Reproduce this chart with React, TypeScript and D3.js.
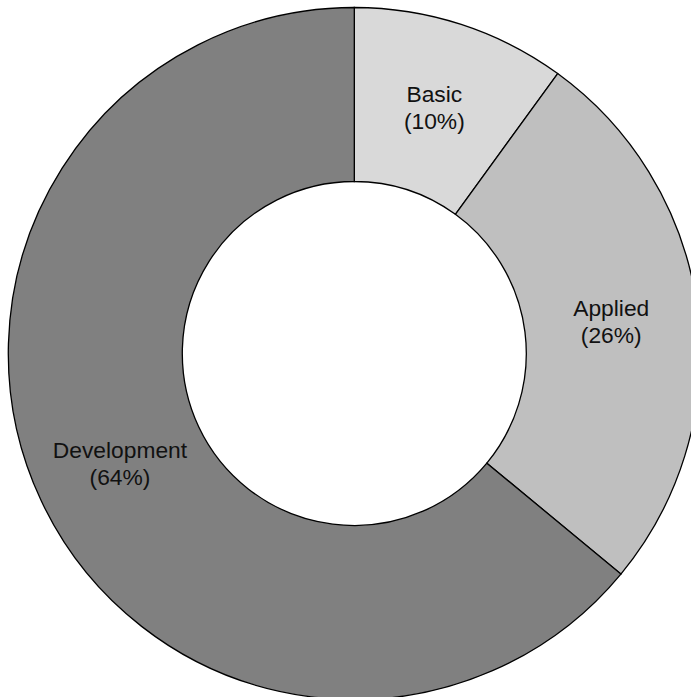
import React from "react";
import * as d3 from "d3";

const categories = ["Basic", "Applied", "Development"];
const shares = [10, 26, 64];
const fills = ["#d9d9d9", "#bfbfbf", "#808080"];

const WIDTH = 691;
const HEIGHT = 697;
const CX = 354.3;
const CY = 353.5;
const OUTER = 346;
const INNER = 172;

export default function App() {
  const pie = d3
    .pie<number>()
    .sort(null)
    .value((d) => d)
    .startAngle(0)
    .endAngle(2 * Math.PI);
  const arcs = pie(shares);
  const arc = d3
    .arc<d3.PieArcDatum<number>>()
    .innerRadius(INNER)
    .outerRadius(OUTER);

  return (
    <svg
      width={WIDTH}
      height={HEIGHT}
      style={{ position: "absolute", left: 0, top: 0, background: "#fff" }}
    >
      <g transform={`translate(${CX},${CY})`}>
        {arcs.map((a, i) => (
          <path
            key={categories[i]}
            d={arc(a) ?? ""}
            fill={fills[i]}
            stroke="#000"
            strokeWidth={1.3}
            strokeLinejoin="miter"
          />
        ))}
        {arcs.map((a, i) => {
          const [x, y] = arc.centroid(a);
          return (
            <text
              key={`label-${categories[i]}`}
              x={x}
              y={y}
              textAnchor="middle"
              fontFamily="'Liberation Sans', Arial, Helvetica, sans-serif"
              fontSize={22.8}
              fill="#111"
            >
              <tspan x={x} dy={-5.5}>
                {categories[i]}
              </tspan>
              <tspan x={x} dy={27}>
                ({shares[i]}%)
              </tspan>
            </text>
          );
        })}
      </g>
    </svg>
  );
}
